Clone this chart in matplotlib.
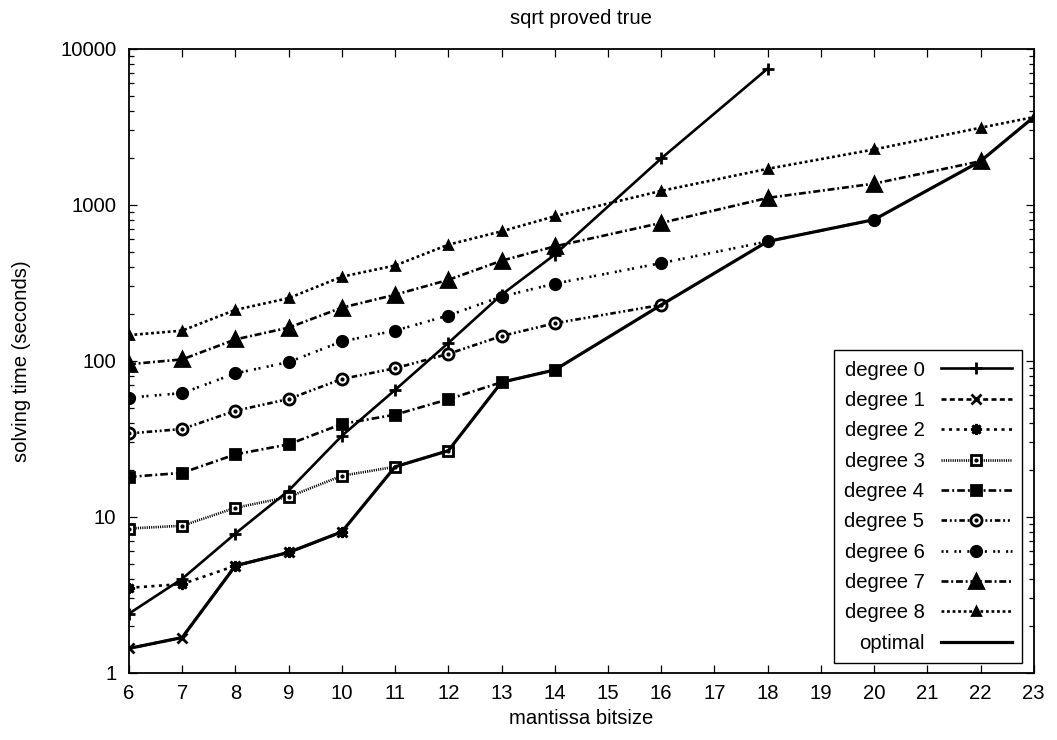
import matplotlib
matplotlib.use('Agg')
import matplotlib.pyplot as plt
from matplotlib.legend_handler import HandlerTuple
from matplotlib.ticker import FixedLocator, LogLocator, NullFormatter

plt.rcParams['font.family'] = ['Liberation Sans', 'DejaVu Sans']
plt.rcParams['lines.scale_dashes'] = False

bits = [6, 7, 8, 9, 10, 11, 12, 13, 14, 16, 18, 20, 22, 23]

deg0 = [2.39, 4.0, 7.8, 14.7, 33, 65, 130, 265, 479, 1982, 7470]
deg1 = [1.43, 1.68, 4.85, 5.9, 8.0]
deg2 = [3.5, 3.7, 4.85, 5.9, 8.0]
deg3 = [8.4, 8.75, 11.4, 13.4, 18.3, 20.9, 26.5]
deg4 = [18.0, 19.1, 25.1, 29.1, 39.3, 45.1, 56.6, 72.8, 87.3]
deg5 = [34.2, 36.5, 47.8, 56.8, 76.4, 89.5, 110.6, 144, 174, 228]
deg6 = [58, 62, 83, 98, 133, 156, 195, 258, 312, 423, 582, 803]
deg7 = [95, 102, 137, 163, 219, 265, 330, 438, 541, 765, 1107, 1367, 1904]
deg8 = [146, 156, 212, 252, 346, 408, 555, 676, 844, 1228, 1701, 2264, 3119, 3650]

labels = ['degree %d' % i for i in range(9)]
values = [deg0, deg1, deg2, deg3, deg4, deg5, deg6, deg7, deg8]

# optimal = best degree at each bitsize
optimal = []
for i, b in enumerate(bits):
    optimal.append(min(v[i] for v in values if i < len(v)))

styles = [
    dict(ls='-', marker='+', ms=8),
    dict(ls=(0, (3.6, 2.4)), marker='x', ms=7),
    dict(ls=(0, (2.2, 3.2)), marker=(8, 2, 0), ms=8),
    dict(ls=(0, (0.8, 0.8)), marker='s', ms=7.5, mfc='white'),
    dict(ls=(0, (5.5, 2.2, 1.4, 2.2)), marker='s', ms=7.5),
    dict(ls=(0, (4.0, 2.0, 1.4, 2.0, 1.4, 2.0)), marker='o', ms=8, mfc='white'),
    dict(ls=(0, (1.5, 1.8, 1.5, 4.5)), marker='o', ms=7.5),
    dict(ls=(0, (5.0, 2.0, 1.4, 2.0)), marker='^', ms=10.5),
    dict(ls=(0, (2.0, 2.0)), marker='^', ms=5.5),
]

fig = plt.figure(figsize=(10.57, 7.4), dpi=100)
ax = fig.add_axes([0.122, 0.091, 0.856, 0.843])

handles = []
for lab, vals, st in zip(labels, values, styles):
    line, = ax.plot(bits[:len(vals)], vals, color='black', lw=1.9, mew=2.0,
                    mec='black', label=lab, **st)
    if st.get('mfc') == 'white':
        dot, = ax.plot(bits[:len(vals)], vals, ls='none', marker='o', ms=2,
                       color='black')
        handles.append((line, dot))
    else:
        handles.append(line)

opt_line, = ax.plot(bits, optimal, color='black', lw=2.3, label='optimal')
handles.append(opt_line)

ax.set_yscale('log')
ax.set_xlim(6, 23)
ax.set_ylim(1, 10000)
ax.xaxis.set_major_locator(FixedLocator(range(6, 24)))
ax.yaxis.set_major_locator(FixedLocator([1, 10, 100, 1000, 10000]))
ax.set_yticklabels(['1', '10', '100', '1000', '10000'])
ax.yaxis.set_minor_locator(LogLocator(base=10, subs=range(2, 10)))
ax.yaxis.set_minor_formatter(NullFormatter())
ax.tick_params(which='both', direction='in', top=True, right=True,
               width=0.9, labelsize=14.6)
ax.tick_params(which='major', length=6)
ax.tick_params(which='minor', length=3.5)
ax.tick_params(axis='x', pad=8)
ax.tick_params(axis='y', pad=9)
for s in ax.spines.values():
    s.set_linewidth(1.3)

ax.set_title('sqrt proved true', fontsize=14.6, pad=18)
ax.set_xlabel('mantissa bitsize', fontsize=14.6)
ax.set_ylabel('solving time (seconds)', fontsize=14.6)
ax.xaxis.set_label_coords(0.5, -0.058)
ax.yaxis.set_label_coords(-0.108, 0.5)

leg = ax.legend(handles, labels + ['optimal'], loc='lower right',
                bbox_to_anchor=(0.9867, 0.0156), borderaxespad=0,
                markerfirst=False, fancybox=False, framealpha=1,
                edgecolor='black', fontsize=14.6, handlelength=3.5,
                handletextpad=0.8, labelspacing=0.56, borderpad=0.5,
                handler_map={tuple: HandlerTuple(ndivide=1)})
leg.get_frame().set_linewidth(1.0)

fig.savefig('out.png', dpi=100)
